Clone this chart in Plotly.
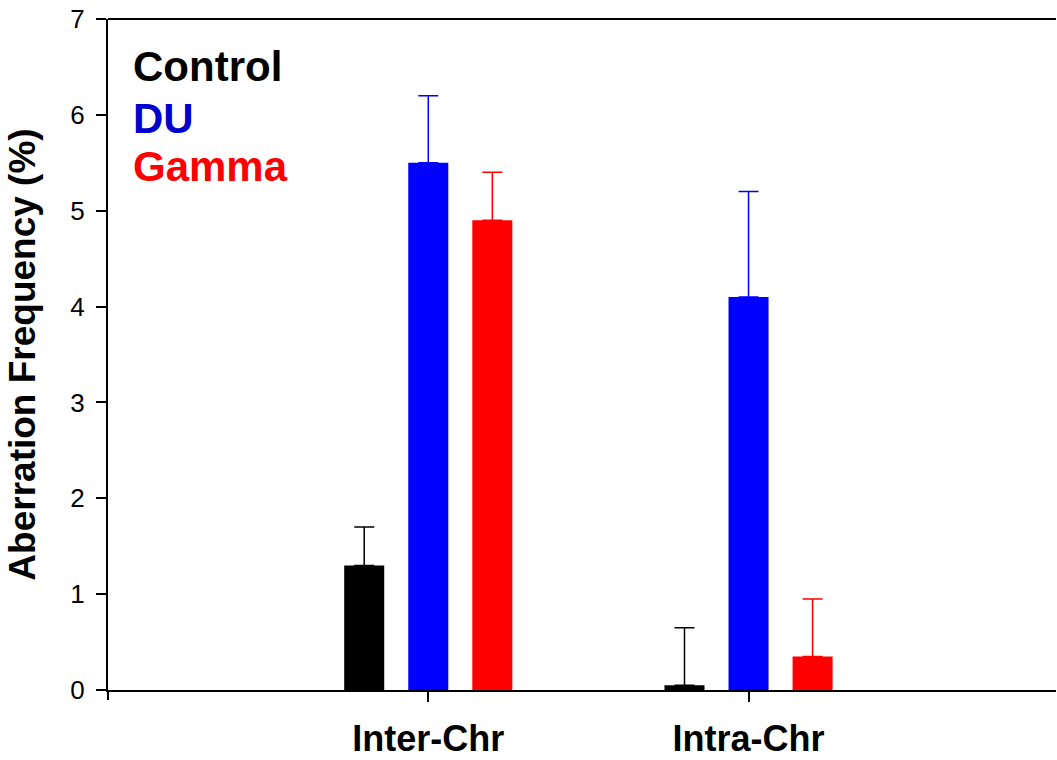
import plotly.graph_objects as go

categories = ["Inter-Chr", "Intra-Chr"]
series_names = ["Control", "DU", "Gamma"]
control_vals = [1.3, 0.05]
control_err_top = [1.7, 0.65]
du_vals = [5.5, 4.1]
du_err_top = [6.2, 5.2]
gamma_vals = [4.9, 0.35]
gamma_err_top = [5.4, 0.95]

bar_colors = ["#000000", "#0000FF", "#FF0000"]
label_colors = ["#000000", "#0000CC", "#FF0000"]

FONT = "Liberation Sans, Arial, sans-serif"

W, H = 1057, 760
ML, MR, MT, MB = 108, 1, 19, 70
PW = W - ML - MR
PH = H - MT - MB

fig = go.Figure()
for name, vals, tops, col in zip(series_names,
                                 [control_vals, du_vals, gamma_vals],
                                 [control_err_top, du_err_top, gamma_err_top],
                                 bar_colors):
    fig.add_trace(go.Bar(
        x=categories, y=vals, name=name,
        marker=dict(color=col, line=dict(width=0)),
        error_y=dict(type="data", symmetric=False,
                     array=[t - v for t, v in zip(tops, vals)],
                     arrayminus=[0] * len(vals),
                     color=col, thickness=1.5, width=10),
        showlegend=False,
    ))

fig.update_layout(
    width=W, height=H,
    margin=dict(l=ML, r=MR, t=MT, b=MB, autoexpand=False),
    paper_bgcolor="white", plot_bgcolor="white",
    barmode="group", bargap=0.4, bargroupgap=0.375,
    font=dict(family=FONT, color="black"),
    xaxis=dict(
        range=[-1.0, 1.96], showgrid=False, zeroline=False,
        showline=True, linecolor="black", linewidth=2,
        ticks="outside", ticklen=10, tickwidth=2, tickcolor="black",
        ticklabelstandoff=6, automargin=False,
        tickfont=dict(size=36, family=FONT, color="black", weight="bold"),
    ),
    yaxis=dict(
        range=[0, 7], dtick=1, showgrid=False, zeroline=False,
        showline=True, linecolor="black", linewidth=2,
        ticks="outside", ticklen=10, tickwidth=2, tickcolor="black",
        ticklabelstandoff=6, ticklabeloverflow="allow", automargin=False,
        tickfont=dict(size=26, family=FONT, color="black"),
        title=dict(text="<b>Aberration Frequency (%)</b>",
                   font=dict(size=37, family=FONT, color="black"), standoff=23),
    ),
)

# top border line and small downward extension of the y axis line
fig.add_shape(type="line", xref="paper", yref="paper",
              x0=0, x1=1, y0=1, y1=1,
              line=dict(color="black", width=2))
fig.add_shape(type="line", xref="paper", yref="paper",
              x0=0, x1=0, y0=0, y1=-10 / PH,
              line=dict(color="black", width=2))

# series labels (legend-like text)
ys = [66, 118, 166]
for name, col, yp in zip(series_names, label_colors, ys):
    fig.add_annotation(
        x=(131 - 108) / PW, y=(690 - yp) / PH,
        xref="paper", yref="paper", showarrow=False,
        text=f"<b>{name}</b>", font=dict(size=42, family=FONT, color=col),
        xanchor="left", yanchor="middle",
    )

fig.write_html(
    "out.html",
    config={"displayModeBar": False},
    post_script="document.body.style.margin='0';document.body.style.overflow='hidden';"
                "document.documentElement.style.overflow='hidden';",
)
